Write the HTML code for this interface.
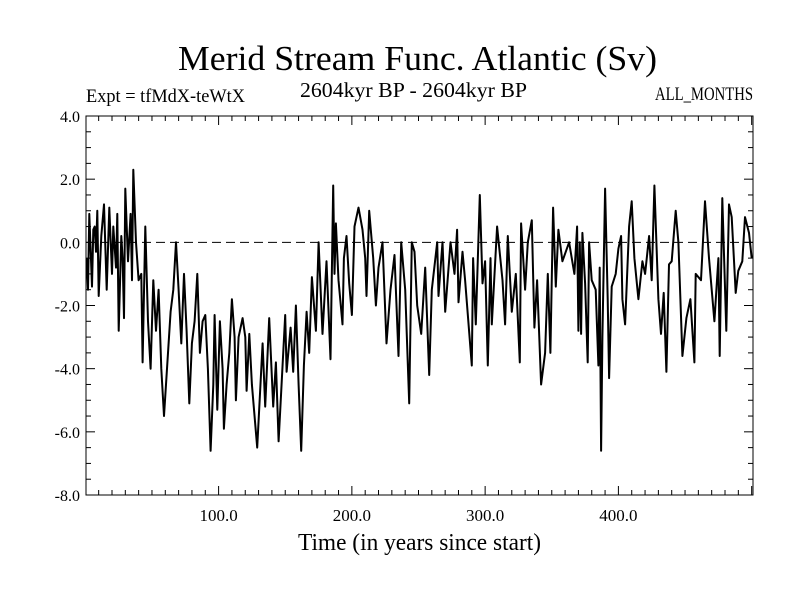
<!DOCTYPE html>
<html><head><meta charset="utf-8"><style>
body{margin:0;background:#fff}
svg text{font-family:"Liberation Serif",serif;fill:#000}
</style></head><body>
<svg width="800" height="600" viewBox="0 0 800 600" xmlns="http://www.w3.org/2000/svg">
<rect width="800" height="600" fill="#fff"/>
<text x="178" y="70" font-size="35" textLength="479" lengthAdjust="spacingAndGlyphs">Merid Stream Func. Atlantic (Sv)</text>
<text x="86" y="102" font-size="19" textLength="159" lengthAdjust="spacingAndGlyphs">Expt = tfMdX-teWtX</text>
<text x="300" y="97" font-size="21" textLength="227" lengthAdjust="spacingAndGlyphs">2604kyr BP - 2604kyr BP</text>
<text x="655" y="100" font-size="19" textLength="98" lengthAdjust="spacingAndGlyphs">ALL_MONTHS</text>
<text x="298" y="550" font-size="24" textLength="243" lengthAdjust="spacingAndGlyphs">Time (in years since start)</text>
<g id="axes"></g>
<g id="plot"></g>
<rect x="86" y="116" width="667" height="379" fill="none" stroke="#000" stroke-width="1"/>
</svg>
<script>
const years=[1,2,3,5,6,7,8,9,10,12,14,16,18,20,21,23,24,25,27,28,29,30,32,34,35,36,38,40,42,43,45,47,49,51,53,55,57,59,61,64,66,68,70,72,74,76,78,80,82,84,86,88,90,92,94,96,97,99,101,103,104,106,108,110,112,113,115,118,120,121,
123,125,129,133,135,138,141,143,145,150,151,154,156,158,160,162,164,166,168,170,173,175,178,181,184,186,187,188,190,193,194,196,198,200,202,205,208,210,211,213,216,218,220,223,226,229,232,235,237,240,243,245,
247,249,252,255,258,260,264,265,268,270,274,277,279,280,283,285,290,291,293,296,298,300,302,304,305,309,313,315,317,320,323,326,327,330,332,335,337,339,342,345,347,349,351,353,355,358,363,367,369,370,
371,372,373,375,377,378,380,383,385,386,387,388,390,392,393,395,398,400,402,403,405,408,410,412,415,418,420,423,425,427,430,432,434,436,438,440,443,445,448,451,454,457,458,462,465,468,470,472,475,476,478,481,483,485,488,490,493,495,498,500];
const values=[-0.5,-1.5,0.9,-1.4,0.4,0.5,-0.3,1.0,-1.7,0.2,1.2,-1.5,1.1,-1.0,0.5,-0.8,0.9,-2.8,0.2,-0.5,-2.4,1.7,-0.6,0.9,-1.2,2.3,0.0,-1.2,-1.0,-3.8,0.5,-2.5,-4.0,-1.2,-2.8,-1.5,-4.0,-5.5,-4.2,-2.2,-1.5,0.0,-1.5,-3.2,-1.0,-2.8,-5.1,-3.2,-2.5,-1.0,-3.5,-2.5,-2.3,-4.0,-6.6,-4.5,-2.3,-5.3,-2.5,-4.0,-5.9,-4.5,-3.5,-1.8,-3.0,-5.0,-3.0,-2.4,-3.0,-4.7,
-2.9,-4.5,-6.5,-3.2,-5.2,-2.4,-5.2,-3.8,-6.3,-2.3,-4.1,-2.7,-4.1,-2.0,-4.5,-6.6,-3.9,-2.2,-3.5,-1.1,-2.8,0.0,-2.9,-0.6,-3.7,1.8,-1.0,0.6,-1.2,-2.6,-0.5,0.2,-1.3,-2.3,0.5,1.1,0.4,-0.5,-1.7,1.0,-0.5,-2.0,-0.8,0.0,-3.2,-1.5,-0.4,-3.6,0.0,-1.5,-5.1,0.0,
-0.3,-2.0,-2.9,-0.8,-4.2,-1.5,0.0,-1.7,0.0,-2.2,0.0,-1.0,0.4,-1.9,-0.3,-1.2,-3.9,-0.5,-2.6,1.5,-1.3,-0.6,-3.9,-0.5,-2.6,0.5,-1.2,-2.6,0.2,-2.2,-1.0,-3.8,0.6,-1.5,0.0,0.7,-2.7,-1.2,-4.5,-3.5,-1.0,-3.5,1.1,-1.4,0.4,-0.6,0.0,-1.0,0.5,-2.8,
0.0,-2.9,0.3,-1.3,-3.8,0.0,-1.2,-1.5,-3.9,-0.8,-6.6,-3.0,1.7,-1.8,-4.3,-1.4,-1.0,-0.2,0.2,-1.8,-2.6,0.5,1.3,-0.5,-1.8,-0.6,-1.0,0.2,-1.2,1.8,-1.8,-2.9,-1.6,-4.1,-0.7,-0.6,1.0,0.0,-3.6,-2.4,-1.8,-3.8,-1.0,-1.2,1.3,-0.5,-1.5,-2.5,-0.5,-3.6,1.4,-2.8,1.2,0.8,-1.6,-0.9,-0.6,0.8,0.3,-0.5];
const yTicks=[4,2,0,-2,-4,-6,-8];
const yLabels=["4.0","2.0","0.0","-2.0","-4.0","-6.0","-8.0"];
const xTicks=[100,200,300,400];
const xLabels=["100.0","200.0","300.0","400.0"];
const X0=86,X1=753,Y0=116,Y1=495,xmin=0.5,xmax=501,ymin=-8,ymax=4;
function xs(v){return X0+(v-xmin)/(xmax-xmin)*(X1-X0);}
function ys(v){return Y1-(v-ymin)/(ymax-ymin)*(Y1-Y0);}
const NS='http://www.w3.org/2000/svg';
const axes=document.getElementById('axes'),plot=document.getElementById('plot');
function mk(tag,attrs,parent){const e=document.createElementNS(NS,tag);for(const k in attrs)e.setAttribute(k,attrs[k]);parent.appendChild(e);return e;}
for(let v=-8;v<=4.001;v+=0.5){const maj=Math.abs(v/2-Math.round(v/2))<1e-6;const L=maj?9:5;const y=ys(v);
const t1=mk('line',{x1:X0,x2:X0+L,y1:y,y2:y,stroke:'#000','stroke-width':1},axes);


const t2=mk('line',{x1:X1,x2:X1-L,y1:y,y2:y,stroke:'#000','stroke-width':1},axes);

}
yTicks.forEach((v,i)=>{const t=mk('text',{x:X0-6,y:ys(v)+6,'font-size':16,'text-anchor':'end'},axes);t.textContent=yLabels[i];

});
for(let v=10;v<=500;v+=10){const maj=v%100===0;const L=maj?9:5;const x=xs(v);
const t1=mk('line',{x1:x,x2:x,y1:Y1,y2:Y1-L,stroke:'#000','stroke-width':1},axes);


const t2=mk('line',{x1:x,x2:x,y1:Y0,y2:Y0+L,stroke:'#000','stroke-width':1},axes);

}
xTicks.forEach((v,i)=>{const t=mk('text',{x:xs(v),y:Y1+26,'font-size':17,'text-anchor':'middle'},axes);t.textContent=xLabels[i];

});
const zl=mk('line',{x1:X0,x2:X1,y1:ys(0),y2:ys(0),stroke:'#000','stroke-width':1,'stroke-dasharray':'9,5'},plot);


const pts=years.map((yr,i)=>xs(yr).toFixed(1)+','+ys(values[i]).toFixed(1)).join(' ');
const pl=mk('polyline',{points:pts,fill:'none',stroke:'#000','stroke-width':2,'stroke-linejoin':'round'},plot);


</script>
</body></html>
